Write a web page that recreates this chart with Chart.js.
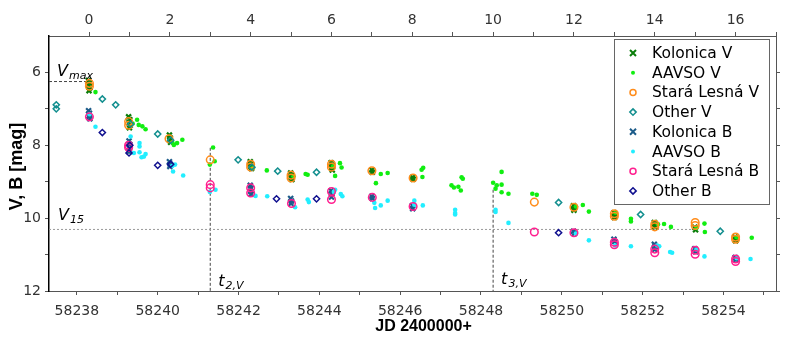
<!DOCTYPE html>
<html>
<head>
<meta charset="utf-8">
<script src="https://cdn.jsdelivr.net/npm/chart.js@4.4.0/dist/chart.umd.min.js"></script>
<style>
  body { margin: 0; background: #fff; }
  canvas { display: block; }
</style>
</head>
<body>
<canvas id="lc" width="789" height="339"></canvas>
<script>
// axis ranges and ticks
const XMIN = 58237.31, XMAX = 58255.30;
const TMAX = 58238.3;   // day 0 of the top axis
const jdTicks = [58238, 58239, 58240, 58241, 58242, 58243, 58244, 58245, 58246, 58247, 58248, 58249, 58250, 58251, 58252, 58253, 58254, 58255];
const dayTicks = [0, 1, 2, 3, 4, 5, 6, 7, 8, 9, 10, 11, 12, 13, 14, 15, 16, 17];
const magTicks = [6, 7, 8, 9, 10, 11, 12];

// reference values
const VMAX = 6.25, V15 = 10.31;
const T2 = 58241.3, T2_TOP = 8.07;
const T3 = 58248.3, T3_TOP = 9.22;
const T15 = 58253.3;

// measurements [JD, mag]
const kolonicaV = [
  [58238.28, 6.22], [58238.31, 6.28], [58238.29, 6.35], [58238.32, 6.42], [58238.30, 6.50],
  [58239.28, 7.22], [58239.31, 7.30], [58239.29, 7.38], [58239.32, 7.45], [58239.30, 7.52],
  [58240.29, 7.72], [58240.31, 7.80], [58240.30, 7.86], [58240.32, 7.92],
  [58242.29, 8.45], [58242.31, 8.52], [58242.30, 8.58], [58242.32, 8.64],
  [58243.29, 8.76], [58243.31, 8.82], [58243.30, 8.88], [58243.32, 8.94],
  [58244.29, 8.48], [58244.31, 8.55], [58244.30, 8.62], [58244.32, 8.68],
  [58245.30, 8.68], [58245.31, 8.74],
  [58246.31, 8.88], [58246.32, 8.93],
  [58250.29, 9.66], [58250.31, 9.72], [58250.30, 9.78],
  [58251.29, 9.85], [58251.31, 9.92], [58251.30, 9.98],
  [58252.29, 10.12], [58252.31, 10.18], [58252.30, 10.24],
  [58253.29, 10.25], [58253.31, 10.32],
  [58254.29, 10.52], [58254.31, 10.58], [58254.30, 10.62]
];
const aavsoV = [
  [58238.46, 6.54],
  [58239.38, 7.40], [58239.49, 7.30], [58239.53, 7.44], [58239.62, 7.48], [58239.70, 7.56],
  [58240.36, 7.92], [58240.40, 7.99], [58240.48, 7.94], [58240.61, 7.85],
  [58241.37, 8.06], [58241.29, 8.53], [58241.41, 8.44],
  [58242.36, 8.62], [58242.70, 8.69],
  [58243.36, 8.85], [58243.66, 8.79], [58243.71, 8.81],
  [58244.34, 8.58], [58244.51, 8.49], [58244.55, 8.61], [58244.39, 8.84],
  [58245.52, 8.79], [58245.69, 8.76], [58245.40, 9.04],
  [58246.53, 8.67], [58246.57, 8.62], [58246.55, 8.87],
  [58247.27, 9.10], [58247.33, 9.16], [58247.44, 9.14], [58247.52, 8.88], [58247.55, 8.92], [58247.50, 9.24],
  [58248.51, 8.73], [58248.30, 9.03], [58248.39, 9.10], [58248.36, 9.19], [58248.51, 9.08], [58248.51, 9.29], [58248.68, 9.33],
  [58249.27, 9.33], [58249.38, 9.36],
  [58250.35, 9.68], [58250.52, 9.64], [58250.67, 9.82],
  [58251.33, 9.85], [58251.71, 10.02], [58251.71, 10.09],
  [58252.38, 10.17], [58252.53, 10.16], [58252.70, 10.24],
  [58253.33, 10.27], [58253.53, 10.15], [58253.54, 10.38],
  [58254.32, 10.52], [58254.70, 10.54]
];
const staraLesnaV = [
  [58238.31, 6.30], [58238.31, 6.38],
  [58239.28, 7.35], [58239.28, 7.45],
  [58240.28, 7.82],
  [58241.30, 8.40],
  [58242.30, 8.52], [58242.30, 8.60],
  [58243.30, 8.82], [58243.30, 8.90],
  [58244.30, 8.52], [58244.30, 8.60],
  [58245.30, 8.70],
  [58246.32, 8.90],
  [58249.32, 9.56],
  [58250.30, 9.70],
  [58251.30, 9.88], [58251.30, 9.95],
  [58252.30, 10.17], [58252.30, 10.24],
  [58253.30, 10.12], [58253.30, 10.20],
  [58254.30, 10.52], [58254.30, 10.58]
];
const otherV = [
  [58237.49, 6.89], [58237.49, 7.00], [58238.63, 6.73], [58238.96, 6.89],
  [58239.33, 7.42], [58240.00, 7.69], [58240.32, 7.86], [58241.99, 8.40],
  [58242.33, 8.60], [58242.97, 8.71], [58243.93, 8.74], [58249.92, 9.57],
  [58251.95, 9.90], [58253.92, 10.36]
];
const kolonicaB = [
  [58238.29, 7.05], [58238.31, 7.12], [58238.30, 7.20], [58238.32, 7.27],
  [58239.29, 7.88], [58239.31, 7.98], [58239.30, 8.08], [58239.29, 8.18],
  [58240.29, 8.45], [58240.31, 8.52], [58240.30, 8.58],
  [58242.29, 9.10], [58242.31, 9.18], [58242.30, 9.26], [58242.31, 9.34],
  [58243.29, 9.46], [58243.31, 9.53], [58243.30, 9.60],
  [58244.29, 9.25], [58244.31, 9.32], [58244.30, 9.42],
  [58245.30, 9.40], [58245.31, 9.46],
  [58246.30, 9.66], [58246.31, 9.74],
  [58250.29, 10.36], [58250.31, 10.42],
  [58251.29, 10.58], [58251.31, 10.64],
  [58252.29, 10.72], [58252.31, 10.78], [58252.30, 10.86],
  [58253.29, 10.84], [58253.31, 10.92],
  [58254.29, 11.08], [58254.31, 11.14]
];
const aavsoB = [
  [58238.31, 7.15], [58238.46, 7.49],
  [58239.33, 7.76], [58239.41, 8.21], [58239.55, 7.94], [58239.55, 8.03], [58239.55, 8.19], [58239.60, 8.33], [58239.70, 8.24], [58239.66, 8.31],
  [58240.36, 8.57], [58240.43, 8.53], [58240.38, 8.72], [58240.63, 8.83],
  [58241.43, 9.22], [58241.29, 9.28],
  [58242.42, 9.39], [58242.71, 9.40],
  [58243.40, 9.70], [58243.71, 9.49], [58243.74, 9.56],
  [58244.36, 9.28], [58244.39, 9.22], [58244.53, 9.34], [58244.57, 9.40],
  [58245.36, 9.58], [58245.52, 9.65], [58245.38, 9.72], [58245.69, 9.52],
  [58246.35, 9.52], [58246.35, 9.63], [58246.56, 9.65],
  [58247.36, 9.77], [58247.36, 9.86], [58247.36, 9.90],
  [58248.36, 9.77], [58248.36, 9.83], [58248.68, 10.13],
  [58250.35, 10.42], [58250.67, 10.61],
  [58251.32, 10.75], [58251.71, 10.77],
  [58252.36, 10.75], [58252.41, 10.77], [58252.68, 10.93], [58252.73, 10.95],
  [58253.33, 10.86], [58253.53, 11.05],
  [58254.33, 11.10], [58254.67, 11.12]
];
const staraLesnaB = [
  [58238.31, 7.22],
  [58239.28, 8.00], [58239.28, 8.06],
  [58241.30, 9.08], [58241.30, 9.17],
  [58242.30, 9.17], [58242.30, 9.31],
  [58243.31, 9.60],
  [58244.30, 9.27], [58244.30, 9.49],
  [58245.31, 9.43],
  [58246.32, 9.68],
  [58249.32, 10.38],
  [58250.30, 10.40],
  [58251.30, 10.66], [58251.30, 10.73],
  [58252.30, 10.85], [58252.30, 10.95],
  [58253.30, 10.88], [58253.30, 10.99],
  [58254.30, 11.12], [58254.30, 11.19]
];
const otherB = [
  [58238.63, 7.65], [58239.29, 8.21], [58239.31, 8.00], [58240.00, 8.55],
  [58240.32, 8.52], [58242.94, 9.47], [58243.93, 9.47], [58249.92, 10.40]
];

const seriesNames = ["Kolonica V", "AAVSO V", "Stará Lesná V", "Other V", "Kolonica B", "AAVSO B", "Stará Lesná B", "Other B"];
const seriesData = [kolonicaV, aavsoV, staraLesnaV, otherV, kolonicaB, aavsoB, staraLesnaB, otherB];
const seriesColors = ["#0a7d0a", "#11ee11", "#ff8c1a", "#138f8f", "#1d5c8a", "#22eeff", "#ff1f8f", "#10108f"];
const seriesStyles = ["crossRot", "circle", "circle", "rectRot", "crossRot", "circle", "circle", "rectRot"];

function markerOpts(i) {
  const style = seriesStyles[i];
  const c = seriesColors[i];
  if (style === "crossRot") return { pointStyle: style, pointRadius: 3.5, pointBorderWidth: 2.2, pointBorderColor: c, pointBackgroundColor: c };
  if (i === 1 || i === 5) return { pointStyle: "circle", pointRadius: 2.3, pointBorderWidth: 0, pointBorderColor: c, pointBackgroundColor: c };
  if (style === "circle") return { pointStyle: "circle", pointRadius: 3.8, pointBorderWidth: 1.5, pointBorderColor: c, pointBackgroundColor: "rgba(0,0,0,0)" };
  return { pointStyle: "rectRot", pointRadius: 3.1, pointBorderWidth: 1.5, pointBorderColor: c, pointBackgroundColor: "rgba(255,255,255,0)" };
}

const datasets = seriesData.map((d, i) => Object.assign({
  label: seriesNames[i],
  data: d.map(p => ({ x: p[0], y: p[1] })),
  showLine: false,
  order: 10 - i
}, markerOpts(i)));

function refLine(pts, color, dash) {
  return {
    label: "", data: pts, showLine: true, pointRadius: 0, borderColor: color,
    borderWidth: 1, borderDash: dash, order: 30
  };
}
datasets.push(refLine([{ x: XMIN, y: VMAX }, { x: TMAX, y: VMAX }], "#444", [3, 2]));
datasets.push(refLine([{ x: XMIN, y: V15 }, { x: T15, y: V15 }], "#999", [2, 2]));
datasets.push(refLine([{ x: T2, y: T2_TOP }, { x: T2, y: 12 }], "#444", [3, 2]));
datasets.push(refLine([{ x: T3, y: T3_TOP }, { x: T3, y: 12 }], "#444", [3, 2]));

const tickFont = { family: "DejaVu Sans", size: 14 };
const tickColor = "#333";

function subLabel(ctx, x, y, main, sub) {
  ctx.font = "italic 16px 'DejaVu Sans'";
  ctx.fillText(main, x, y);
  const w = ctx.measureText(main).width;
  ctx.font = "italic 11px 'DejaVu Sans'";
  ctx.fillText(sub, x + w + 1, y + 3);
}

const annotations = {
  id: "annotations",
  afterDatasetsDraw(chart) {
    const { ctx, scales } = chart;
    const xs = scales.x, ys = scales.y;
    ctx.save();
    ctx.fillStyle = "#000";
    ctx.textBaseline = "alphabetic";
    ctx.textAlign = "left";
    subLabel(ctx, xs.left + 8, ys.getPixelForValue(VMAX) - 6, "V", "max");
    subLabel(ctx, xs.left + 9, ys.getPixelForValue(V15) - 9, "V", "15");
    subLabel(ctx, xs.getPixelForValue(T2) + 8, ys.bottom - 5, "t", "2,V");
    subLabel(ctx, xs.getPixelForValue(T3) + 8, ys.bottom - 7, "t", "3,V");

    // axis titles
    ctx.font = "bold 16px 'Liberation Sans'";
    ctx.textAlign = "center";
    ctx.textBaseline = "middle";
    ctx.fillText("JD 2400000+", (xs.left + xs.right) / 2 + 11, ys.bottom + 36);
    ctx.save();
    ctx.translate(17, (ys.top + ys.bottom) / 2 + 3);
    ctx.rotate(-Math.PI / 2);
    ctx.font = "bold 18px 'Liberation Sans'";
    ctx.fillText("V, B [mag]", 0, 0);
    ctx.restore();
    ctx.restore();
  }
};

function drawMarker(ctx, i, x, y) {
  const c = seriesColors[i];
  const st = seriesStyles[i];
  ctx.save();
  ctx.strokeStyle = c;
  ctx.fillStyle = c;
  if (st === "crossRot") {
    ctx.lineWidth = 2;
    ctx.beginPath();
    ctx.moveTo(x - 3, y - 3); ctx.lineTo(x + 3, y + 3);
    ctx.moveTo(x + 3, y - 3); ctx.lineTo(x - 3, y + 3);
    ctx.stroke();
  } else if (i === 1 || i === 5) {
    ctx.beginPath(); ctx.arc(x, y, 2, 0, Math.PI * 2); ctx.fill();
  } else if (st === "circle") {
    ctx.lineWidth = 1.5;
    ctx.beginPath(); ctx.arc(x, y, 3, 0, Math.PI * 2); ctx.stroke();
  } else {
    ctx.lineWidth = 1.5;
    ctx.beginPath();
    ctx.moveTo(x, y - 3.2); ctx.lineTo(x + 3.2, y); ctx.lineTo(x, y + 3.2); ctx.lineTo(x - 3.2, y); ctx.closePath();
    ctx.stroke();
  }
  ctx.restore();
}

const boxLegend = {
  id: "boxLegend",
  afterDraw(chart) {
    const { ctx, chartArea } = chart;
    const right = chartArea.right - 7, top = chartArea.top + 3;
    const w = 155, rowH = 19.7, h = 165;
    const left = right - w;
    ctx.save();
    ctx.fillStyle = "#fff";
    ctx.fillRect(left, top, w, h);
    ctx.strokeStyle = "#666";
    ctx.lineWidth = 1;
    ctx.strokeRect(left + 0.5, top + 0.5, w, h);
    ctx.font = "15.5px 'DejaVu Sans'";
    ctx.textBaseline = "middle";
    ctx.textAlign = "left";
    seriesNames.forEach((name, i) => {
      const y = top + 14 + i * rowH;
      drawMarker(ctx, i, left + 19, y);
      ctx.fillStyle = "#000";
      ctx.fillText(name, left + 38, y + 1);
    });
    ctx.restore();
  }
};

function fixedTicks(values) {
  return scale => { scale.ticks = values.map(v => ({ value: v })); };
}
const gridOpts = { drawOnChartArea: false, drawTicks: true, tickLength: 4, color: "#555", lineWidth: 1 };

new Chart(document.getElementById("lc"), {
  type: "scatter",
  data: { datasets },
  plugins: [annotations, boxLegend],
  options: {
    responsive: false,
    animation: false,
    devicePixelRatio: 1,
    layout: { padding: 0 },
    plugins: { legend: { display: false }, tooltip: { enabled: false } },
    scales: {
      x: {
        type: "linear", position: "bottom", min: XMIN, max: XMAX,
        afterBuildTicks: fixedTicks(jdTicks),
        afterFit: s => { s.height = 48; },
        grid: gridOpts,
        border: { color: "#555" },
        ticks: { font: tickFont, color: tickColor, padding: 8, maxRotation: 0, autoSkip: false,
          callback: v => (v % 2 === 0 ? String(v) : "") }
      },
      x2: {
        type: "linear", position: "top", min: XMIN - TMAX, max: XMAX - TMAX,
        afterBuildTicks: fixedTicks(dayTicks),
        afterFit: s => { s.height = 36; },
        grid: gridOpts,
        border: { color: "#555" },
        ticks: { font: tickFont, color: tickColor, padding: 3, maxRotation: 0, autoSkip: false,
          callback: v => (v % 2 === 0 ? String(v) : "") }
      },
      y: {
        type: "linear", position: "left", min: 5, max: 12, reverse: true,
        afterBuildTicks: fixedTicks(magTicks),
        afterFit: s => { s.width = 49; },
        grid: gridOpts,
        border: { color: "#000", width: 1.5 },
        ticks: { font: tickFont, color: tickColor, padding: 4, autoSkip: false,
          callback: v => (v % 2 === 0 ? String(v) : "") }
      },
      y2: {
        type: "linear", position: "right", min: 5, max: 12, reverse: true,
        afterBuildTicks: fixedTicks(magTicks),
        afterFit: s => { s.width = 13; },
        grid: gridOpts,
        border: { color: "#555" },
        ticks: { font: tickFont, color: tickColor, padding: 0, autoSkip: false, callback: () => "" }
      }
    }
  }
});
</script>
</body>
</html>
